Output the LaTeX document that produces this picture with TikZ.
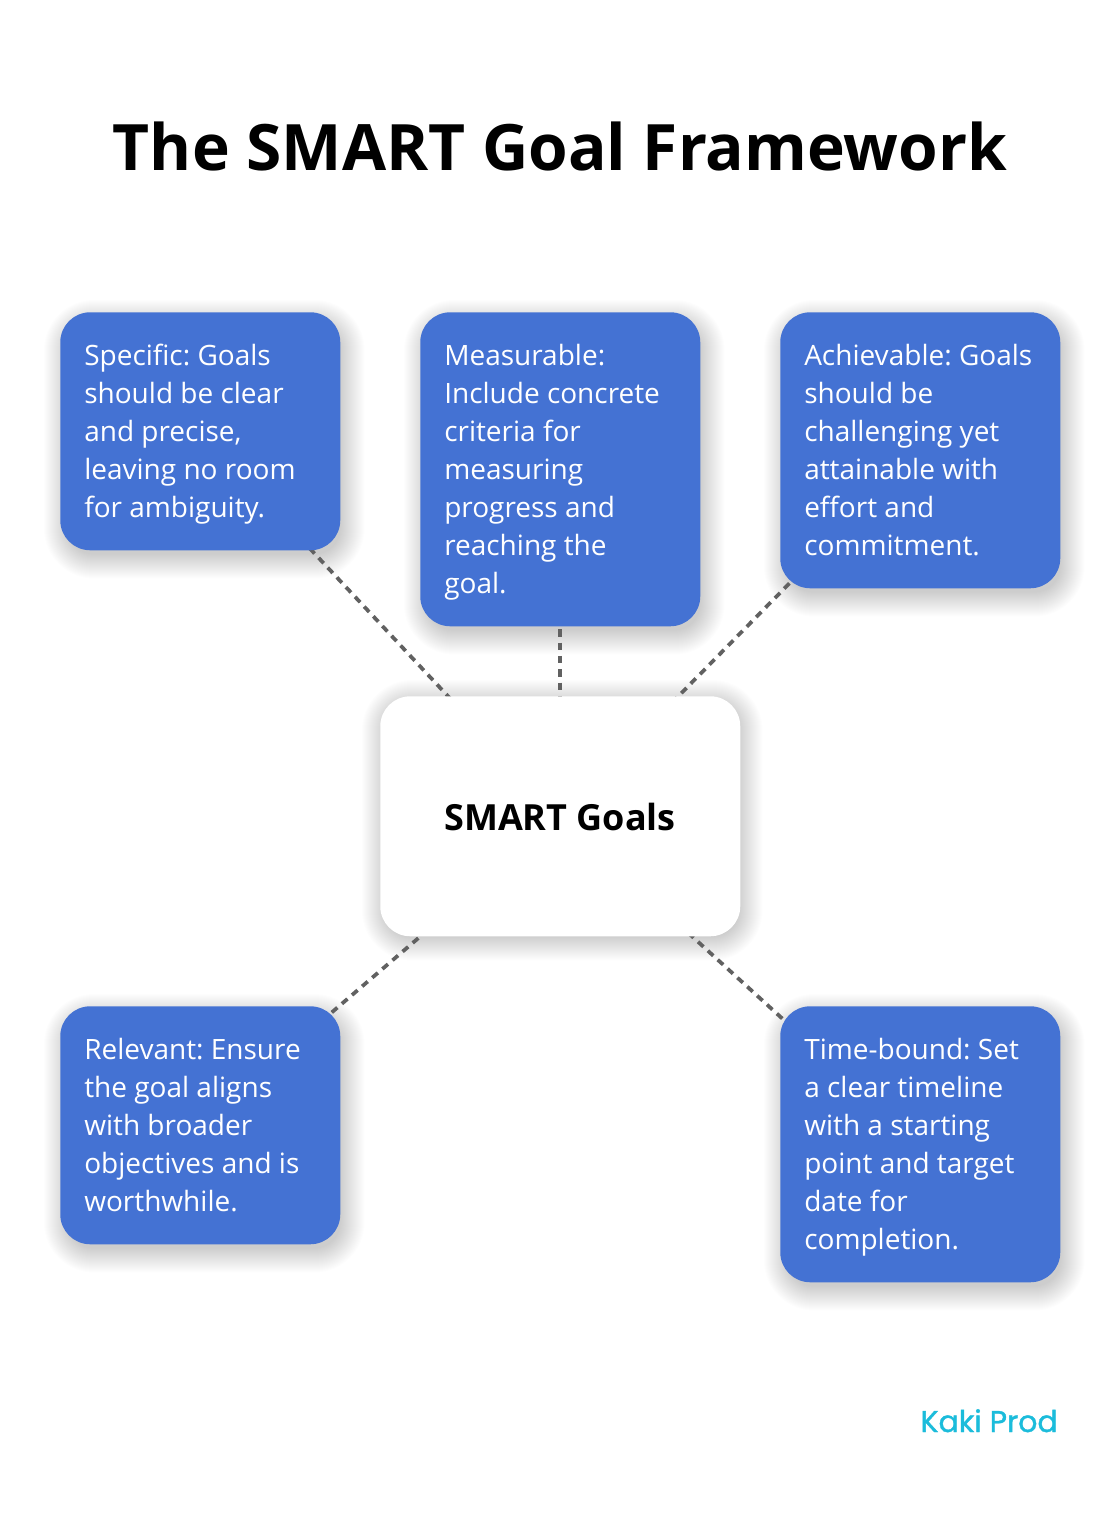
\documentclass[tikz,border=0pt]{standalone}
\usepackage{fontspec}
\setmainfont{Open Sans}
\newfontfamily\logofont[FakeBold=1.2]{Poppins}
\usetikzlibrary{calc}
\definecolor{boxblue}{HTML}{4472D3}
\definecolor{linegray}{HTML}{616161}
\definecolor{logocyan}{HTML}{1BBCDB}
\pgfdeclarelayer{back}
\pgfdeclarelayer{shadow}
\pgfdeclarelayer{lines}
\pgfsetlayers{back,shadow,lines,main}
\newcommand\softshadow[3]{% node, xshift px, yshift px
  \begin{pgfonlayer}{shadow}
  \foreach \i [evaluate=\i as \rr using 22.5+0.75*\i] in {-4,...,20}{
    \fill[black, opacity=0.0095, rounded corners=\rr pt]
      ($(#1.north west)+(#2-\i,#3-\i)$) rectangle ($(#1.south east)+(#2+\i,#3+\i)$);
  }
  \end{pgfonlayer}}
\begin{document}
\begin{tikzpicture}[x=0.75pt,y=-0.75pt,
  cardbox/.style={fill=boxblue, rounded corners=22.5pt, minimum width=210pt, anchor=north west, inner sep=0pt},
  centerbox/.style={fill=white, rounded corners=22.5pt, minimum width=270pt, minimum height=180pt, anchor=north west, inner sep=0pt},
  cardtext/.style={anchor=north west, inner sep=0pt, align=left, text=white, font=\fontsize{21pt}{28.5pt}\selectfont},
  link/.style={draw=linegray, line width=2.8pt, dash pattern=on 5.5pt off 4.5pt}]
\frenchspacing
\useasboundingbox (0,0) rectangle (1120,1522);
\begin{pgfonlayer}{back}
\fill[white] (0,0) rectangle (1120,1522);
\end{pgfonlayer}

\node[anchor=base, inner sep=0pt, font=\fontsize{48pt}{56pt}\selectfont\bfseries] (title) at (560,170) {The SMART Goal Framework};

\node[centerbox] (c) at (380,696) {};
\node[inner sep=0pt, font=\fontsize{27pt}{32pt}\selectfont\bfseries] (ct) at (560,817) {SMART Goals};

\node[cardbox, minimum height=178.5pt] (s) at (60,312) {};
\node[cardtext] (st) at (84,336) {\rule{0pt}{22.25pt}Specific: Goals\\should be clear\\and precise,\\leaving no room\\for ambiguity.};

\node[cardbox, minimum height=235.5pt] (m) at (420,312) {};
\node[cardtext] (mt) at (444,336) {\rule{0pt}{22.25pt}Measurable:\\Include concrete\\criteria for\\measuring\\progress and\\reaching the\\goal.};

\node[cardbox, minimum height=207pt] (a) at (780,312) {};
\node[cardtext] (at) at (804,336) {\rule{0pt}{22.25pt}Achievable: Goals\\should be\\challenging yet\\attainable with\\effort and\\commitment.};

\node[cardbox, minimum height=178.5pt] (r) at (60,1006) {};
\node[cardtext] (rt) at (84,1030) {\rule{0pt}{22.25pt}Relevant: Ensure\\the goal aligns\\with broader\\objectives and is\\worthwhile.};

\node[cardbox, minimum height=207pt] (t) at (780,1006) {};
\node[cardtext] (tt) at (804,1030) {\rule{0pt}{22.25pt}Time-bound: Set\\a clear timeline\\with a starting\\point and target\\date for\\completion.};

\node[anchor=base east, inner sep=0pt, text=logocyan, font=\logofont\fontsize{22.5pt}{26pt}\selectfont] (logo) at (1058,1432) {Kaki Prod};

\softshadow{s}{4}{8}
\softshadow{m}{4}{8}
\softshadow{a}{4}{8}
\softshadow{r}{4}{8}
\softshadow{t}{4}{8}
\softshadow{c}{2}{4}

\begin{pgfonlayer}{lines}
\draw[link] (s.center) -- (c.center);
\draw[link] (m.center) -- (c.center);
\draw[link] (a.center) -- (c.center);
\draw[link] (r.center) -- (c.center);
\draw[link] (t.center) -- (c.center);
\end{pgfonlayer}
\end{tikzpicture}
\end{document}
